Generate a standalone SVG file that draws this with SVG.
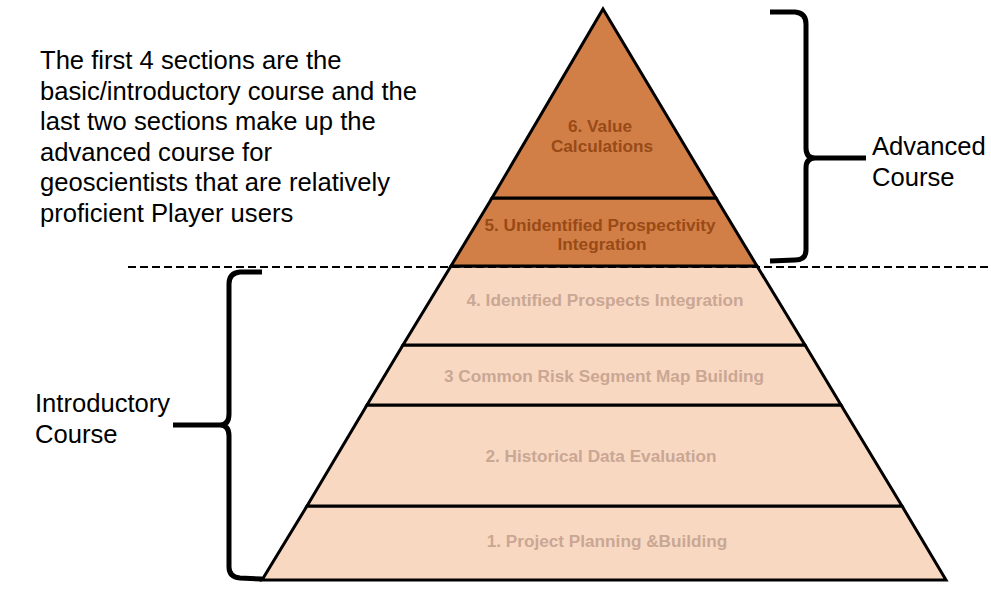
<svg xmlns="http://www.w3.org/2000/svg" width="991" height="589" viewBox="0 0 991 589">
<style>
.adv{fill:#D27F47;stroke:#000;stroke-width:3;stroke-linejoin:miter}
.intro{fill:#F9D8C2;stroke:#000;stroke-width:3;stroke-linejoin:miter}
.lab{font-family:"Liberation Sans",Arial,sans-serif;font-weight:bold;font-size:17.2px;text-anchor:middle}
.advt{fill:#984A17}
.introt{fill:#C9A794}
.txt{font-family:"Liberation Sans",Arial,sans-serif;font-size:25.6px;fill:#000}
.brace{fill:none;stroke:#000;stroke-width:5;stroke-linecap:butt;stroke-linejoin:round}
</style>
<rect width="991" height="589" fill="#fff"/>
<g id="layer1">
<polygon class="intro" points="307,506 902,506 946,580 262,580"/>
<text class="lab introt" x="607" y="547">1. Project Planning &amp;Building</text>
</g>
<g id="layer2">
<polygon class="intro" points="367,405 841,405 902,506 307,506"/>
<text class="lab introt" x="601" y="462">2. Historical Data Evaluation</text>
</g>
<g id="layer3">
<polygon class="intro" points="403,345 805,345 841,405 367,405"/>
<text class="lab introt" x="604" y="382">3 Common Risk Segment Map Building</text>
</g>
<g id="layer4">
<polygon class="intro" points="451,266 757,266 805,345 403,345"/>
<text class="lab introt" x="605" y="306">4. Identified Prospects Integration</text>
</g>
<g id="layer5">
<polygon class="adv" points="492,198 716,198 757,266 451,266"/>
<text class="lab advt" x="600" y="231">5. Unidentified Prospectivity</text>
<text class="lab advt" x="602" y="250">Integration</text>
</g>
<g id="layer6">
<polygon class="adv" points="603,9 716,198 492,198"/>
<text class="lab advt" x="600" y="132">6. Value</text>
<text class="lab advt" x="602" y="152">Calculations</text>
</g>
<g id="connectors">
<line x1="128" y1="267" x2="988" y2="267" stroke="#000" stroke-width="2" stroke-dasharray="8,4"/>
<path class="brace" d="M770,12 L795,12 Q806,13 806,24 L806,148 Q806,158 815,158 L866,158 M815,158 Q806,158 806,168 L806,250 Q806,260 795,260 L770,261"/>
<path class="brace" d="M262,272 L240,272 Q229,273 229,284 L229,414 Q229,425 220,425 L173,425 M220,425 Q229,425 229,436 L229,567 Q229,577 240,578 L262,579"/>
</g>
<g id="notes">
<text class="txt" x="40" y="69">The first 4 sections are the</text>
<text class="txt" x="40" y="99.5">basic/introductory course and the</text>
<text class="txt" x="40" y="130">last two sections make up the</text>
<text class="txt" x="40" y="160.5">advanced course for</text>
<text class="txt" x="40" y="191">geoscientists that are relatively</text>
<text class="txt" x="40" y="222">proficient Player users</text>
<text class="txt" x="872" y="155">Advanced</text>
<text class="txt" x="872" y="186">Course</text>
<text class="txt" x="35" y="412">Introductory</text>
<text class="txt" x="35" y="443">Course</text>
</g>
</svg>
